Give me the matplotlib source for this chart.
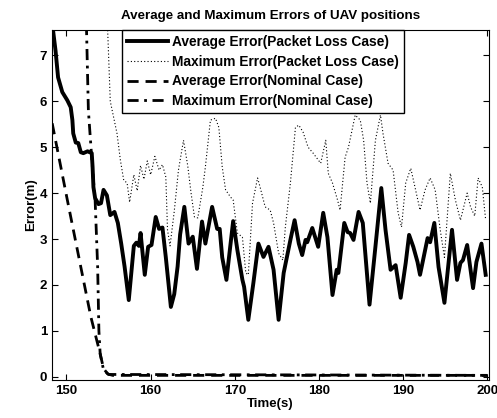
import matplotlib
matplotlib.use("Agg")
import matplotlib.pyplot as plt

plt.rcParams['font.family'] = ['Liberation Sans', 'DejaVu Sans']
plt.rcParams['font.weight'] = 'bold'

# average error, packet loss case (solid)
t_avg_pl = [148.3, 148.7, 149.0, 149.5, 150.1, 150.5, 150.7, 150.8, 151.1, 151.4,
            151.7, 152.0, 152.5, 153.0, 153.1, 153.2, 153.4, 153.8, 154.1, 154.4,
            154.8, 155.2, 155.7, 156.1, 156.5, 156.9, 157.4, 158.0, 158.3, 158.6,
            158.8, 159.3, 159.7, 160.1, 160.6, 161.0, 161.4, 161.8, 162.4, 162.8,
            163.2, 163.5, 164.0, 164.5, 165.0, 165.5, 166.1, 166.5, 167.3, 167.9,
            168.2, 168.5, 169.0, 169.8, 170.3, 170.9, 171.1, 171.6, 172.2, 172.8,
            173.4, 174.0, 174.6, 175.2, 175.8, 176.6, 177.1, 177.6, 178.0, 178.4,
            178.6, 179.2, 179.9, 180.5, 181.0, 181.6, 182.1, 182.3, 183.0, 183.4,
            183.7, 184.1, 184.7, 185.2, 186.0, 186.7, 187.4, 187.9, 188.5, 189.1,
            189.7, 190.3, 190.7, 191.2, 191.7, 192.0, 192.9, 193.2, 193.7, 194.2,
            194.9, 195.4, 195.8, 196.4, 196.8, 197.1, 197.6, 198.3, 198.7, 199.3,
            199.8]
e_avg_pl = [7.7, 7.1, 6.52, 6.2, 6.02, 5.87, 5.59, 5.3, 5.1, 5.09,
            4.89, 4.87, 4.91, 4.87, 4.57, 4.13, 3.89, 3.76, 3.78, 4.07,
            3.95, 3.52, 3.59, 3.35, 2.9, 2.4, 1.67, 2.85, 2.92, 2.85,
            3.13, 2.22, 2.83, 2.87, 3.48, 3.22, 3.25, 2.6, 1.52, 1.8,
            2.4, 3.1, 3.7, 2.9, 3.05, 2.35, 3.38, 2.9, 3.7, 3.22,
            3.22, 2.6, 2.11, 3.39, 2.76, 2.11, 1.96, 1.24, 2.04, 2.9,
            2.61, 2.83, 2.33, 1.24, 2.26, 2.98, 3.41, 2.9, 2.65, 2.98,
            2.93, 3.24, 2.83, 3.57, 3.04, 1.78, 2.33, 2.26, 3.35, 3.15,
            3.13, 2.98, 3.59, 3.35, 1.57, 2.83, 4.11, 3.2, 2.33, 2.43,
            1.72, 2.48, 3.09, 2.83, 2.5, 2.22, 3.02, 2.93, 3.35, 2.39,
            1.61, 2.5, 3.2, 2.11, 2.48, 2.54, 2.87, 1.93, 2.5, 2.9,
            2.22]

# maximum error, packet loss case (dotted)
t_max_pl = [154.7, 154.9, 155.2, 156.0, 156.4, 156.8, 157.2, 157.5, 158.0, 158.4,
            158.8, 159.2, 159.6, 160.0, 160.5, 161.0, 161.4, 161.8, 162.0, 162.3,
            162.8, 163.3, 163.9, 164.4, 164.8, 165.2, 165.6, 166.2, 166.5, 167.1,
            167.7, 168.1, 168.5, 168.9, 169.5, 169.8, 170.3, 170.9, 171.3, 171.6,
            172.1, 172.7, 173.0, 173.6, 174.2, 174.6, 175.2, 175.7, 176.0, 176.6,
            177.2, 177.6, 178.1, 178.7, 179.3, 180.2, 180.8, 181.1, 181.6, 182.2,
            182.5, 183.1, 183.5, 184.3, 184.9, 185.3, 185.7, 186.1, 186.7, 187.3,
            187.6, 188.2, 188.8, 189.4, 189.8, 190.3, 190.9, 191.4, 192.0, 192.6,
            193.2, 193.8, 194.4, 194.9, 195.6, 196.2, 196.8, 197.6, 198.0, 198.5,
            198.9, 199.4, 199.8]
e_max_pl = [8.2, 7.5, 6.0, 5.3, 4.72, 4.28, 4.22, 3.8, 4.4, 4.05,
            4.6, 4.3, 4.7, 4.4, 4.8, 4.5, 4.62, 4.35, 3.2, 2.85,
            3.6, 4.5, 5.15, 4.6, 4.0, 3.48, 3.46, 4.13, 4.57, 5.59,
            5.63, 5.43, 4.57, 4.07, 3.91, 3.85, 3.13, 3.04, 2.26, 2.22,
            3.78, 4.33, 4.13, 3.7, 3.63, 3.35, 2.69, 2.54, 3.26, 4.22,
            5.43, 5.48, 5.33, 5.0, 4.87, 4.65, 5.15, 4.43, 4.22, 3.85,
            3.63, 4.78, 5.0, 5.7, 5.59, 5.15, 4.22, 3.78, 5.15, 5.7,
            5.3, 4.65, 4.5, 3.57, 3.26, 4.22, 4.54, 4.13, 3.63, 4.07,
            4.33, 4.07, 3.2, 2.6, 4.43, 3.85, 3.41, 4.0, 3.7, 3.5,
            4.33, 4.13, 3.41]

# average error, nominal case (dashed)
t_avg_nom = [148.3, 150.1, 151.7, 152.9, 154.0, 154.4, 154.9, 155.5, 200.0]
e_avg_nom = [5.52, 3.85, 2.39, 1.3, 0.5, 0.18, 0.06, 0.03, 0.03]

# maximum error, nominal case (dash-dot)
t_max_nom = [152.2, 152.6, 153.1, 153.4, 153.7, 153.85, 154.0, 154.4, 155.0, 200.0]
e_max_nom = [9.0, 5.8, 4.5, 3.85, 2.4, 1.0, 0.5, 0.15, 0.05, 0.03]

fig = plt.figure(figsize=(4.97, 4.18), dpi=100)
ax = fig.add_axes([0.105, 0.091, 0.879, 0.837])

ax.plot(t_avg_pl, e_avg_pl, 'k-', lw=2.8, label='Average Error(Packet Loss Case)')
ax.plot(t_max_pl, e_max_pl, color='k', ls=(0, (1, 2)), lw=0.8,
        label='Maximum Error(Packet Loss Case)')
ax.plot(t_avg_nom, e_avg_nom, color='k', ls=(0, (4, 2.5)), lw=2.0,
        label='Average Error(Nominal Case)')
ax.plot(t_max_nom, e_max_nom, color='k', ls=(0, (4, 2, 1, 2)), lw=2.0,
        label='Maximum Error(Nominal Case)')

ax.set_xlim(148.3, 200.2)
ax.set_ylim(-0.07, 7.55)
ax.set_xticks([150, 160, 170, 180, 190, 200])
ax.set_yticks(range(0, 8))
ax.tick_params(direction='in', top=True, right=True, labelsize=9.5, length=4)
for lab in ax.get_xticklabels() + ax.get_yticklabels():
    lab.set_fontweight('bold')

ax.set_xlabel('Time(s)', fontsize=9.5, fontweight='bold', labelpad=1)
ax.set_ylabel('Error(m)', fontsize=9.5, fontweight='bold', labelpad=2)
ax.set_title('Average and Maximum Errors of UAV positions', fontsize=9.6,
             fontweight='bold', pad=8)

leg = ax.legend(loc='upper left', bbox_to_anchor=(0.16, 1.0), borderaxespad=0,
                fancybox=False, edgecolor='k', framealpha=1, fontsize=9.9,
                handlelength=3.0, handletextpad=0.3, labelspacing=0.42,
                borderpad=0.35)
leg.get_frame().set_linewidth(1.0)
for txt in leg.get_texts():
    txt.set_fontweight('bold')

plt.savefig('out.png', dpi=100)
